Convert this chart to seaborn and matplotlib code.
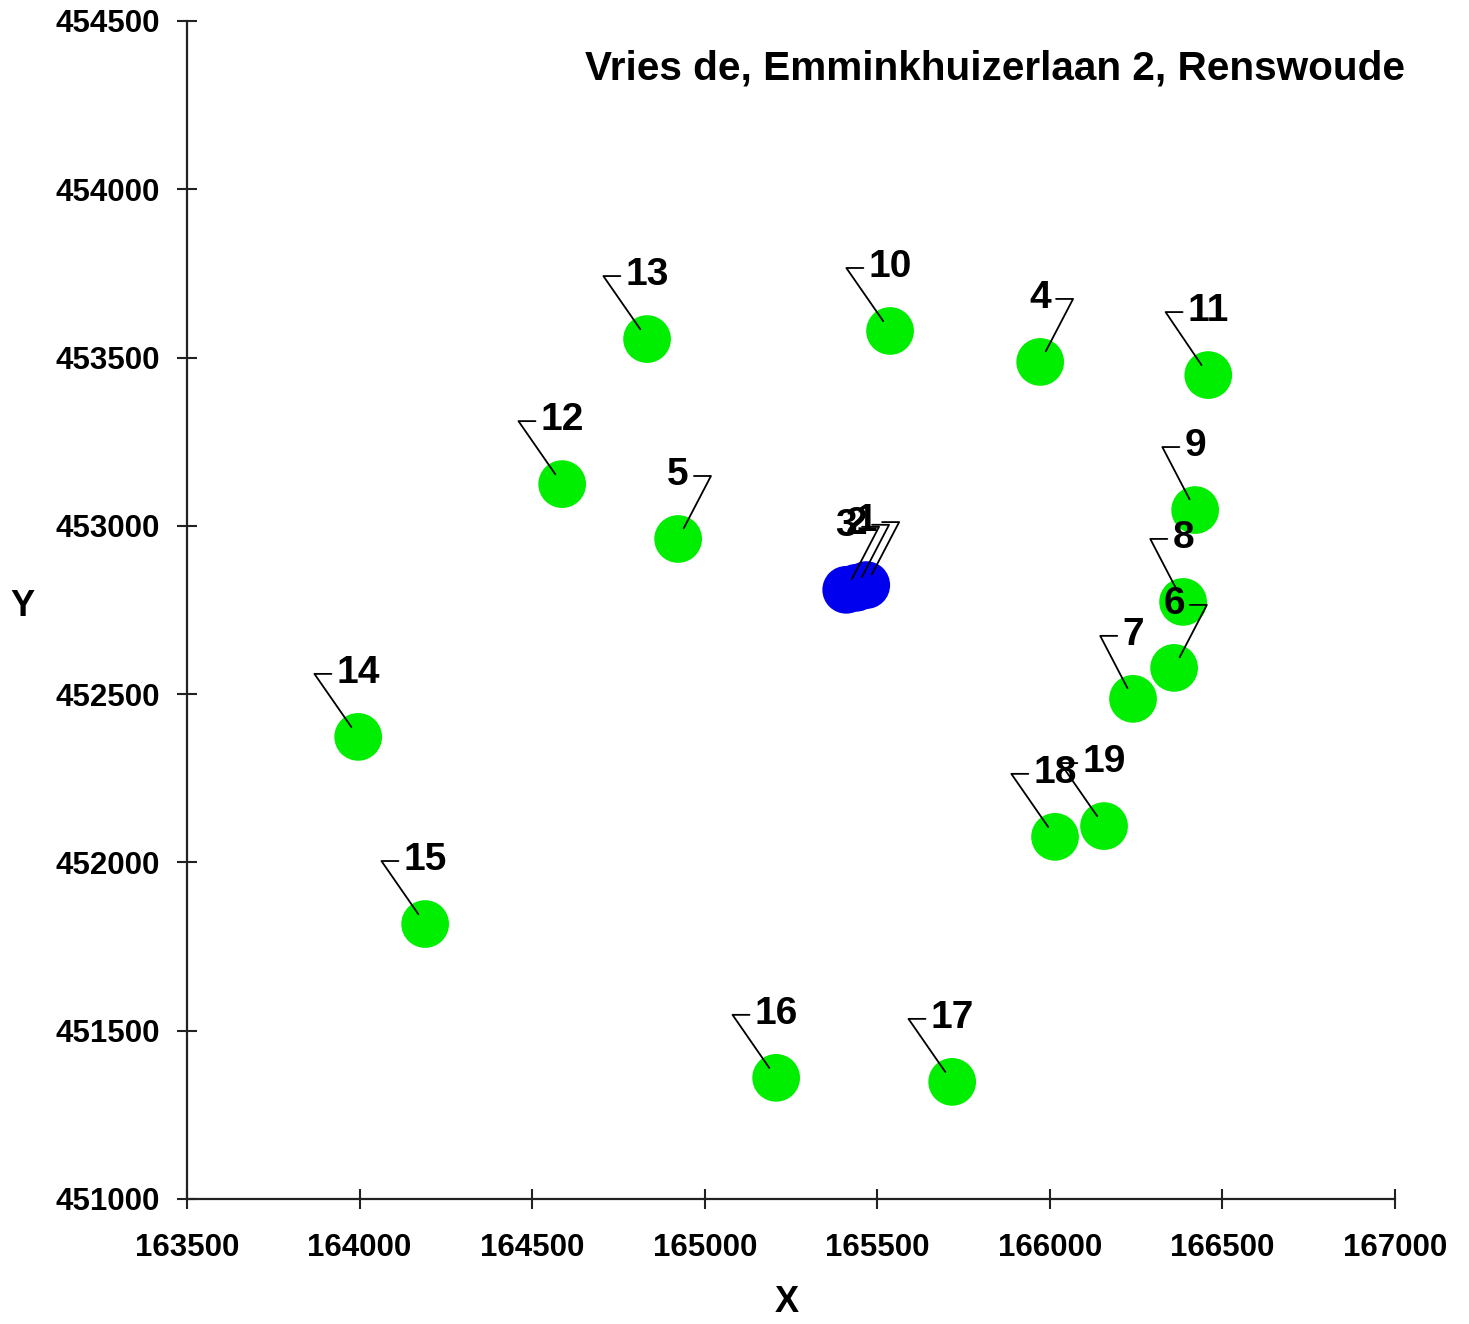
import pandas as pd
import matplotlib.pyplot as plt
import seaborn as sns
from matplotlib.lines import Line2D
from matplotlib.transforms import IdentityTransform

# point data
labels = ["1", "2", "3", "4", "5", "6", "7", "8", "9", "10",
          "11", "12", "13", "14", "15", "16", "17", "18", "19"]
x_vals = [165468, 165439, 165410, 165972, 164923, 166360, 166241, 166386, 166421, 165537,
          166459, 164587, 164833, 163996, 164190, 165207, 165717, 166015, 166157]
y_vals = [452824, 452816, 452810, 453487, 452961, 452578, 452486, 452774, 453047, 453579,
          453448, 453124, 453555, 452373, 451817, 451360, 451348, 452076, 452108]
kind = ["bron", "bron", "bron"] + ["ontvanger"] * 16
# side of the leader tick: "L" = tick right of label, "R" = tick left of label
side = ["L", "L", "L", "L", "L", "L", "R", "R", "R", "R",
        "R", "R", "R", "R", "R", "R", "R", "R", "R"]

x_ticks = [163500, 164000, 164500, 165000, 165500, 166000, 166500, 167000]
y_ticks = [451000, 451500, 452000, 452500, 453000, 453500, 454000, 454500]
title = "Vries de, Emminkhuizerlaan 2, Renswoude"

df = pd.DataFrame({"label": labels, "X": x_vals, "Y": y_vals, "kind": kind, "side": side})

sns.set_style("white")
plt.rcParams["font.family"] = ["Liberation Sans", "DejaVu Sans"]
plt.rcParams["font.weight"] = "bold"
plt.rcParams["text.color"] = "black"
plt.rcParams["xtick.color"] = "black"
plt.rcParams["ytick.color"] = "black"

fig = plt.figure(figsize=(14.69, 13.24), dpi=100)
ax = fig.add_axes([187 / 1469, 125 / 1324, 1208 / 1469, 1178 / 1324])

sns.scatterplot(data=df, x="X", y="Y", hue="kind",
                palette={"bron": "#0000ee", "ontvanger": "#00ee00"},
                s=1180, linewidth=0, legend=False, ax=ax, zorder=2)

ax.set_xlim(x_ticks[0], x_ticks[-1])
ax.set_ylim(y_ticks[0], y_ticks[-1])
ax.set_xticks(x_ticks)
ax.set_yticks(y_ticks)
ax.set_xticklabels([str(v) for v in x_ticks], fontsize=22.5, fontweight="bold")
ax.set_yticklabels([str(v) for v in y_ticks], fontsize=22.5, fontweight="bold")
ax.tick_params(bottom=True, left=True, direction="inout", length=14.4, width=1.5,
               color="#222222", labelcolor="black", pad=12)
ax.tick_params(axis="x", pad=17)
for s in ["top", "right"]:
    ax.spines[s].set_visible(False)
for s in ["left", "bottom"]:
    ax.spines[s].set_linewidth(1.6)
    ax.spines[s].set_color("#222222")
ax.set_xlabel("")
ax.set_ylabel("")

fig.text(787 / 1469, 1 - 1302 / 1324, "X", fontsize=26, fontweight="bold", ha="center", va="center")
fig.text(22 / 1469, 1 - 607 / 1324, "Y", fontsize=26, fontweight="bold", ha="center", va="center")
fig.text(1405 / 1469, 1 - 68 / 1324, title, fontsize=29.2, fontweight="bold", ha="right", va="center")

# labels with leader lines
fig.canvas.draw()
renderer = fig.canvas.get_renderer()
for _, row in df.iterrows():
    px, py = ax.transData.transform((row["X"], row["Y"]))
    t = ax.annotate(row["label"], xy=(row["X"], row["Y"]), xytext=(0, 64),
                    textcoords="offset pixels", ha="center", va="center",
                    fontsize=28, fontweight="bold", zorder=4)
    bb = t.get_window_extent(renderer)
    ty = py + 63
    if row["side"] == "R":
        t0 = bb.x0 - 5
        t1 = t0 - 17
    else:
        t0 = bb.x1 + 5
        t1 = t0 + 17
    dx, dy = t1 - px, ty - py
    ln = (dx ** 2 + dy ** 2) ** 0.5
    ex, ey = px + dx / ln * 12, py + dy / ln * 12
    fig.add_artist(Line2D([t0, t1, ex], [ty, ty, ey], transform=IdentityTransform(),
                          color="black", lw=1.3, zorder=5))

plt.savefig("out.png", dpi=100)
plt.close()
